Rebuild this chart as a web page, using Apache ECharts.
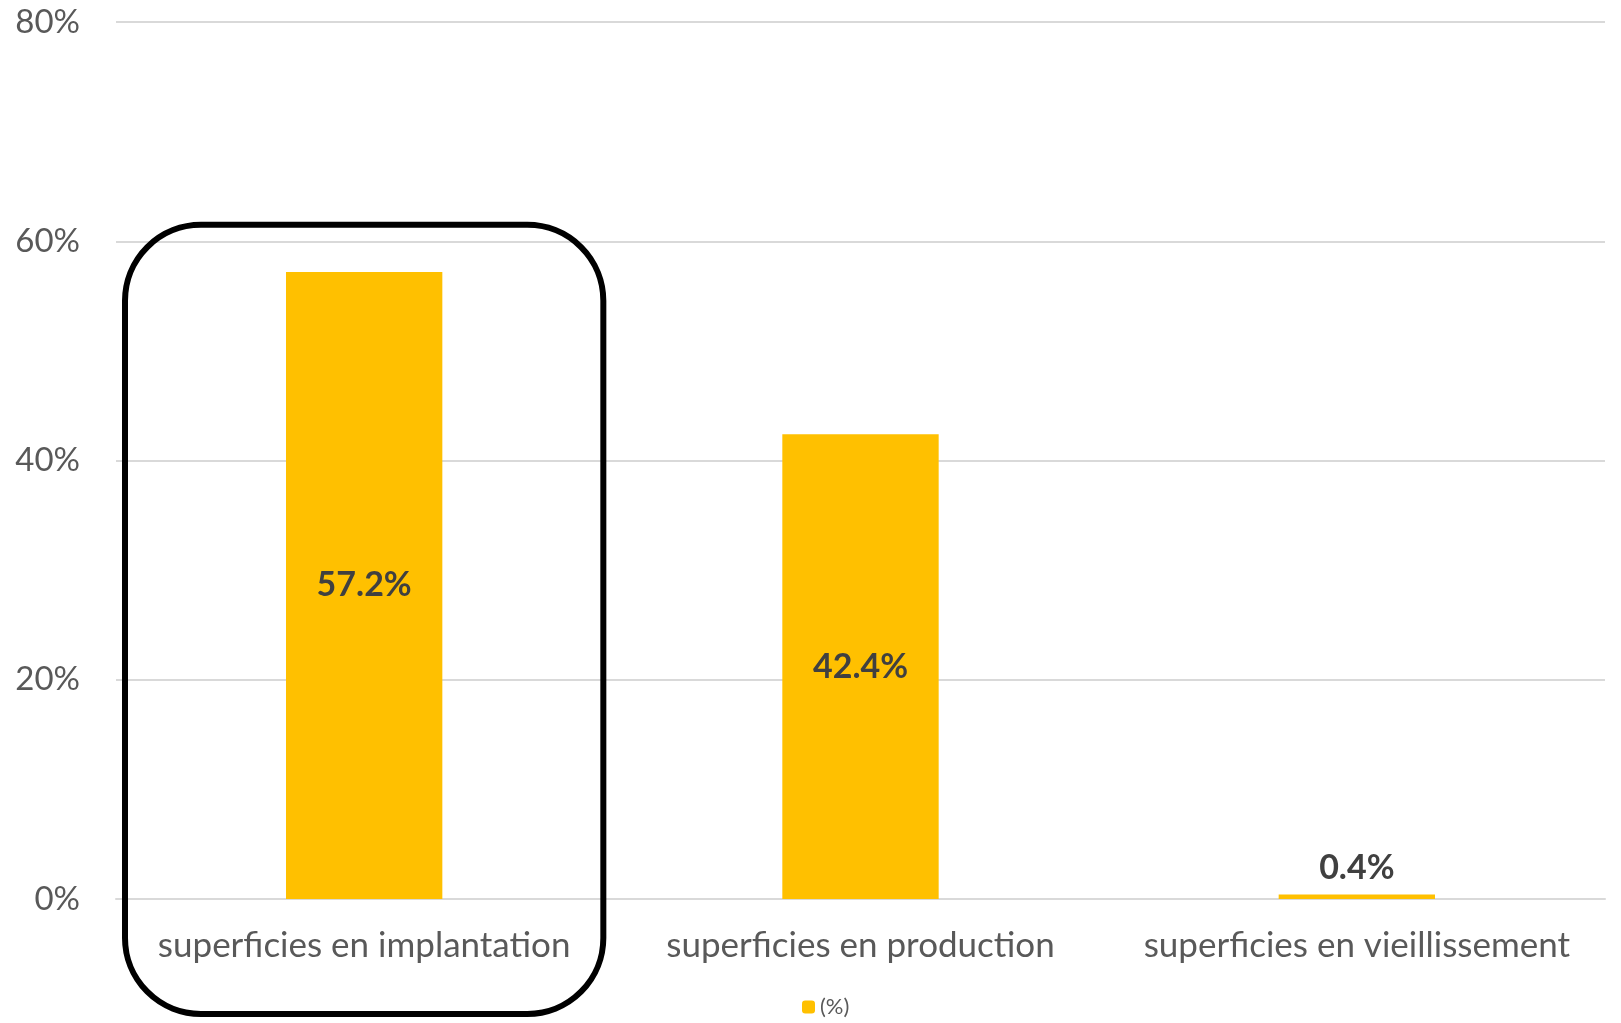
<!DOCTYPE html>
<html>
<head>
<meta charset="utf-8">
<script src="https://cdn.jsdelivr.net/npm/echarts@6/dist/echarts.min.js"></script>
<style>
html,body{margin:0;padding:0;background:#fff;}
#main{width:1621px;height:1023px;}
</style>
</head>
<body>
<div id="main"></div>
<script>
var categories = ['superficies en implantation', 'superficies en production', 'superficies en vieillissement'];
var values = [57.2, 42.4, 0.4];
var labelPositions = ['inside', 'inside', 'top'];
var seriesName = '(%)';
var yTicks = { min: 0, max: 80, interval: 20 };

var FONT = 'Lato, "Open Sans", sans-serif';
var chart = echarts.init(document.getElementById('main'));

var data = values.map(function (v, i) {
  return { value: v, label: { position: labelPositions[i] } };
});

var option = {
  animation: false,
  backgroundColor: '#ffffff',
  textStyle: { fontFamily: FONT },
  grid: { left: 116, right: 16, top: 22, bottom: 124 },
  legend: {
    data: [seriesName],
    bottom: 0,
    left: 797,
    itemWidth: 13,
    itemHeight: 13,
    itemGap: 6,
    textStyle: { fontSize: 22, color: '#595959', fontFamily: FONT }
  },
  xAxis: {
    type: 'category',
    data: categories,
    axisLine: { show: true, lineStyle: { color: '#D9D9D9', width: 2 } },
    axisTick: { show: false },
    axisLabel: { interval: 0, hideOverlap: false, fontSize: 35, color: '#595959', margin: 29, fontFamily: FONT }
  },
  yAxis: {
    type: 'value',
    min: yTicks.min,
    max: yTicks.max,
    interval: yTicks.interval,
    axisLine: { show: false },
    axisTick: { show: false },
    splitLine: { lineStyle: { color: '#D9D9D9', width: 2 } },
    axisLabel: { formatter: '{value}%', fontSize: 33, color: '#595959', margin: 36, fontFamily: FONT }
  },
  series: [{
    name: seriesName,
    type: 'bar',
    data: data,
    barWidth: '31.5%',
    itemStyle: { color: '#FFC000' },
    label: {
      show: true,
      formatter: function (p) { return p.value.toFixed(1) + '%'; },
      fontSize: 34,
      fontWeight: 'bold',
      color: '#404040',
      distance: 10,
      fontFamily: FONT
    }
  }]
};
chart.setOption(option);

// Highlight box around the first category, positioned from the axes
var cx = chart.convertToPixel({ xAxisIndex: 0 }, 0);
var cx2 = chart.convertToPixel({ xAxisIndex: 0 }, 1);
var band = cx2 - cx;
var yTop = chart.convertToPixel({ yAxisIndex: 0 }, 61.5);
var left = cx - band / 2 + 9;
var right = cx + band / 2 - 9;
var bottom = 1014;
chart.setOption({
  graphic: [{
    type: 'rect',
    shape: { x: left, y: yTop, width: right - left, height: bottom - yTop, r: 76 },
    style: { fill: 'none', stroke: '#000000', lineWidth: 6 },
    z: 100
  }]
});
</script>
</body>
</html>
